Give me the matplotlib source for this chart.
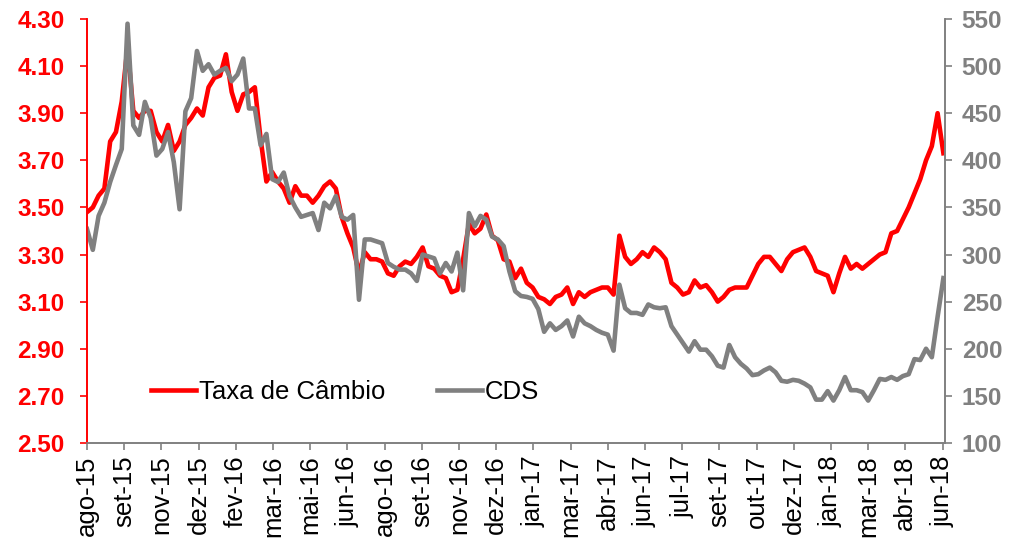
import numpy as np
import pandas as pd
import matplotlib
matplotlib.use('Agg')
import matplotlib.pyplot as plt
from matplotlib.ticker import FormatStrFormatter

plt.rcParams['font.family'] = ['Liberation Sans', 'DejaVu Sans']

# weekly readings, starting 09/08/2015
start = pd.Timestamp('2015-08-09')

taxa = [3.48, 3.50, 3.55, 3.58, 3.78, 3.82, 3.95, 4.18, 3.91, 3.88,
        3.91, 3.91, 3.82, 3.78, 3.85, 3.74, 3.78, 3.85, 3.88, 3.92,
        3.89, 4.01, 4.05, 4.06, 4.15, 3.99, 3.91, 3.98, 3.99, 4.01,
        3.79, 3.61, 3.65, 3.61, 3.58, 3.52, 3.59, 3.55, 3.55, 3.52,
        3.55, 3.59, 3.61, 3.58, 3.46, 3.39, 3.33, 3.22, 3.31, 3.28,
        3.28, 3.27, 3.22, 3.21, 3.25, 3.27, 3.26, 3.29, 3.33, 3.25,
        3.24, 3.21, 3.20, 3.14, 3.15, 3.28, 3.43, 3.39, 3.41, 3.47,
        3.38, 3.36, 3.28, 3.27, 3.20, 3.24, 3.18, 3.16, 3.12, 3.11,
        3.09, 3.12, 3.13, 3.16, 3.09, 3.14, 3.12, 3.14, 3.15, 3.16,
        3.16, 3.13, 3.38, 3.29, 3.26, 3.28, 3.31, 3.29, 3.33, 3.31,
        3.28, 3.18, 3.16, 3.13, 3.14, 3.19, 3.16, 3.17, 3.14, 3.10,
        3.12, 3.15, 3.16, 3.16, 3.16, 3.21, 3.26, 3.29, 3.29, 3.26,
        3.23, 3.28, 3.31, 3.32, 3.33, 3.29, 3.23, 3.22, 3.21, 3.14,
        3.22, 3.29, 3.24, 3.26, 3.24, 3.26, 3.28, 3.30, 3.31, 3.39,
        3.40, 3.45, 3.50, 3.56, 3.62, 3.70, 3.76, 3.90, 3.73]

cds = [327, 305, 341, 355, 377, 395, 412, 545, 437, 427,
       462, 445, 405, 412, 430, 398, 348, 452, 466, 516,
       495, 502, 491, 495, 498, 484, 491, 508, 455, 455,
       416, 428, 380, 377, 387, 362, 350, 340, 342, 344,
       326, 355, 349, 362, 340, 337, 342, 252, 316, 316,
       314, 312, 291, 287, 284, 284, 280, 272, 300, 298,
       296, 280, 291, 282, 302, 262, 344, 330, 341, 337,
       319, 316, 309, 282, 261, 256, 255, 253, 242, 218,
       227, 220, 224, 230, 213, 234, 227, 224, 220, 217,
       215, 198, 268, 243, 238, 238, 236, 247, 244, 243,
       244, 224, 215, 206, 197, 208, 199, 199, 192, 182,
       180, 204, 191, 184, 179, 172, 173, 177, 180, 175,
       166, 165, 167, 166, 163, 159, 146, 146, 155, 145,
       156, 170, 156, 156, 154, 145, 156, 168, 167, 170,
       167, 171, 173, 189, 188, 200, 191, 234, 275]

dates = pd.date_range(start, periods=len(taxa), freq='7D')

meses = ['jan', 'fev', 'mar', 'abr', 'mai', 'jun',
         'jul', 'ago', 'set', 'out', 'nov', 'dez']
tick_dates = pd.date_range(start, periods=24, freq='45D')
tick_labels = [f'{meses[d.month - 1]}-{d.strftime("%y")}' for d in tick_dates]

red = '#FF0000'
gray = '#808080'
fs = 18.5
fs_num = 17.5

fig = plt.figure(figsize=(10.25, 5.42), dpi=100)
ax = fig.add_axes([0.0849, 0.1827, 0.8371, 0.7823])
ax2 = ax.twinx()

l1, = ax.plot(dates, taxa, color=red, lw=3.3, label='Taxa de Câmbio')
l2, = ax2.plot(dates, cds, color=gray, lw=3.3, label='CDS')

ax.set_xlim(start, start + pd.Timedelta(days=1038))
ax.set_ylim(2.5, 4.3)
ax.set_yticks(np.arange(2.5, 4.31, 0.2))
ax.yaxis.set_major_formatter(FormatStrFormatter('%.2f'))
ax2.set_ylim(100, 550)
ax2.set_yticks(np.arange(100, 551, 50))

ax.set_xticks(tick_dates)
ax.set_xticklabels(tick_labels, rotation=90, fontsize=fs)
ax.tick_params(axis='x', colors=gray, labelcolor='black', length=5, width=1.2, pad=4)
ax.tick_params(axis='y', colors=red, length=5, width=1.2, pad=11)
ax2.tick_params(axis='y', colors=gray, length=5, width=1.2, pad=7)
for t in ax.get_yticklabels() + ax2.get_yticklabels():
    t.set_fontsize(fs_num)
    t.set_fontweight('bold')

for a in (ax, ax2):
    a.spines['top'].set_visible(False)
    a.spines['left'].set_color(red)
    a.spines['right'].set_color(gray)
    a.spines['bottom'].set_color(gray)
    for s in a.spines.values():
        s.set_linewidth(1.2)

ax2.legend(handles=[l1, l2], loc='center left', bbox_to_anchor=(0.0746, 0.12),
           ncol=2, frameon=False, fontsize=fs, handlelength=1.75,
           handletextpad=0.12, columnspacing=2.0, borderpad=0, borderaxespad=0)

fig.savefig('out.png', dpi=100)
